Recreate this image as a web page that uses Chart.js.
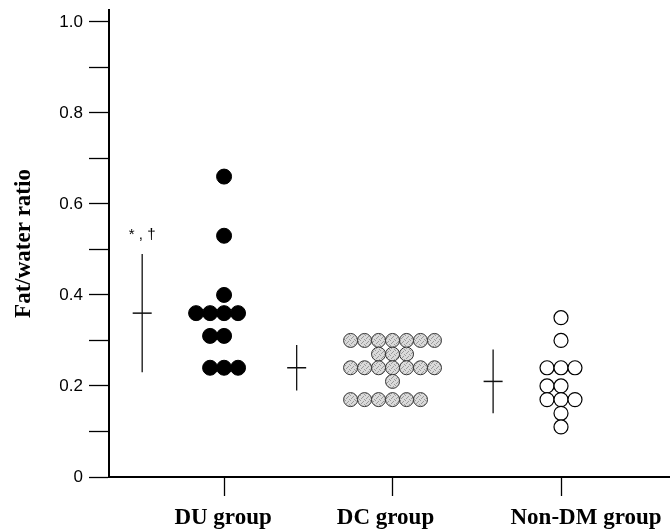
<!DOCTYPE html>
<html>
<head>
<meta charset="utf-8">
<script src="https://cdn.jsdelivr.net/npm/chart.js@4.4.1/dist/chart.umd.min.js"></script>
<style>
  body { margin: 0; background: #fff; }
  #wrap { width: 670px; height: 532px; }
</style>
</head>
<body>
<div id="wrap"><canvas id="fatChart" width="670" height="532"></canvas></div>
<script>
// Gruppen und Messwerte (Fat/water ratio)
const groupNames = ['DU group', 'DC group', 'Non-DM group'];
const groupPositions = [1, 2, 3];

const duValues = [0.66, 0.53, 0.40, 0.36, 0.36, 0.36, 0.36, 0.31, 0.31, 0.24, 0.24, 0.24];
const dcValues = [
    0.30, 0.30, 0.30, 0.30, 0.30, 0.30, 0.30,
    0.27, 0.27, 0.27,
    0.24, 0.24, 0.24, 0.24, 0.24, 0.24, 0.24,
    0.21,
    0.17, 0.17, 0.17, 0.17, 0.17, 0.17
];
const nonDmValues = [0.35, 0.30, 0.24, 0.24, 0.24, 0.20, 0.20, 0.17, 0.17, 0.17, 0.14, 0.11];

// Mittelwert und Standardabweichung je Gruppe
const groupMeans = [0.36, 0.24, 0.21];
const groupSds = [0.13, 0.05, 0.07];

// Achsenbeschriftung
const yTickValues = [0, 0.1, 0.2, 0.3, 0.4, 0.5, 0.6, 0.7, 0.8, 0.9, 1.0];
const yTickLabels = ['0', '', '0.2', '', '0.4', '', '0.6', '', '0.8', '', '1.0'];
const significanceLabel = '* , \u2020';

// Layout der Punktwolke
const DOT_STEP = 0.083;   // Abstand benachbarter Punkte (x-Einheiten)
const CROSS_GAP = 0.32;   // Abstand Mittelwertkreuz zur Punktwolke
const labelShift = [-1, -7, 25];

function rowCounts(values) {
    const rows = new Map();
    values.forEach(v => rows.set(v, (rows.get(v) || 0) + 1));
    return rows;
}

function layoutDots(values, center) {
    const points = [];
    rowCounts(values).forEach((n, v) => {
        for (let i = 0; i < n; i++) {
            points.push({ x: center + (i - Math.floor(n / 2)) * DOT_STEP, y: v });
        }
    });
    return points;
}

function crossPosition(values, center) {
    const widest = Math.max(...rowCounts(values).values());
    return center - Math.floor(widest / 2) * DOT_STEP - CROSS_GAP;
}

const allGroups = [duValues, dcValues, nonDmValues];
const crossX = allGroups.map((vals, i) => crossPosition(vals, groupPositions[i]));

// Punktmuster für die DC-Gruppe (gesprenkeltes Grau)
function speckle() {
    const c = document.createElement('canvas');
    c.width = 5; c.height = 5;
    const g = c.getContext('2d');
    g.fillStyle = '#dadada';
    g.fillRect(0, 0, 5, 5);
    g.fillStyle = '#9a9a9a';
    [[0, 0], [3, 1], [1, 3], [4, 4], [2, 2]].forEach(([a, b]) => g.fillRect(a, b, 1, 1));
    return g.createPattern(c, 'repeat');
}

const sdDatasets = groupMeans.map((m, i) => ({
    type: 'line',
    data: [{ x: crossX[i], y: m - groupSds[i] }, { x: crossX[i], y: m + groupSds[i] }],
    borderColor: '#111',
    borderWidth: 1.3,
    pointRadius: 0,
    fill: false
}));

const groupLabelsPlugin = {
    id: 'groupLabels',
    afterDraw(chart) {
        const { ctx, scales: { x, y } } = chart;
        ctx.save();
        ctx.fillStyle = '#000';
        ctx.textAlign = 'center';
        ctx.textBaseline = 'alphabetic';
        ctx.font = 'bold 23px "Liberation Serif", "Times New Roman", serif';
        groupNames.forEach((name, i) => {
            ctx.fillText(name, x.getPixelForValue(groupPositions[i]) + labelShift[i], y.bottom + 47);
        });
        // Signifikanz über der DU-Gruppe
        ctx.font = '15px "Liberation Sans", Arial, sans-serif';
        ctx.fillText(significanceLabel, x.getPixelForValue(crossX[0]),
            y.getPixelForValue(groupMeans[0] + groupSds[0]) - 15);
        ctx.restore();
    }
};

Chart.defaults.font.family = '"Liberation Sans", Arial, sans-serif';

const ctx = document.getElementById('fatChart').getContext('2d');
new Chart(ctx, {
    type: 'scatter',
    data: {
        datasets: [
            {
                label: 'DU group',
                data: layoutDots(duValues, groupPositions[0]),
                backgroundColor: '#000',
                borderColor: '#000',
                borderWidth: 1,
                pointRadius: 7.5
            },
            {
                label: 'DC group',
                data: layoutDots(dcValues, groupPositions[1]),
                backgroundColor: speckle(),
                borderColor: '#333',
                borderWidth: 1,
                pointRadius: 7
            },
            {
                label: 'Non-DM group',
                data: layoutDots(nonDmValues, groupPositions[2]),
                backgroundColor: '#fff',
                borderColor: '#000',
                borderWidth: 1.2,
                pointRadius: 7
            },
            ...sdDatasets,
            {
                label: 'Mean',
                data: groupMeans.map((m, i) => ({ x: crossX[i], y: m })),
                pointStyle: 'line',
                pointRadius: 9.5,
                borderColor: '#111',
                borderWidth: 1.5
            }
        ]
    },
    options: {
        responsive: false,
        animation: false,
        events: [],
        layout: { autoPadding: false, padding: { top: 10, right: 0, bottom: 0, left: 0 } },
        plugins: {
            legend: { display: false },
            tooltip: { enabled: false }
        },
        scales: {
            x: {
                type: 'linear',
                position: 'bottom',
                min: 0.317,
                max: 3.647,
                afterBuildTicks: scale => { scale.ticks = groupPositions.map(v => ({ value: v })); },
                afterFit: scale => {
                    scale.height = 55;
                    scale.paddingLeft = 0;
                    scale.paddingRight = 0;
                },
                ticks: { callback: () => '' },
                grid: {
                    drawOnChartArea: false,
                    drawTicks: true,
                    tickLength: 19,
                    color: '#000',
                    tickColor: '#000',
                    tickWidth: 1.3
                },
                border: { display: true, color: '#000', width: 2 }
            },
            y: {
                type: 'linear',
                min: 0,
                max: 1.026,
                afterBuildTicks: scale => { scale.ticks = yTickValues.map(v => ({ value: v })); },
                afterFit: scale => {
                    scale.width = 109;
                    scale.paddingTop = 0;
                    scale.paddingBottom = 0;
                },
                ticks: {
                    color: '#000',
                    font: { size: 17 },
                    padding: 6,
                    callback: (value, index) => yTickLabels[index]
                },
                grid: {
                    drawOnChartArea: false,
                    drawTicks: true,
                    tickLength: 20,
                    color: '#000',
                    tickColor: '#000',
                    tickWidth: 1.3
                },
                border: { display: true, color: '#000', width: 2 },
                title: {
                    display: true,
                    text: 'Fat/water ratio',
                    color: '#000',
                    font: { family: '"Liberation Serif", "Times New Roman", serif', size: 23, weight: 'bold' },
                    padding: { top: 10, bottom: 0 }
                }
            }
        }
    },
    plugins: [groupLabelsPlugin]
});
</script>
</body>
</html>
